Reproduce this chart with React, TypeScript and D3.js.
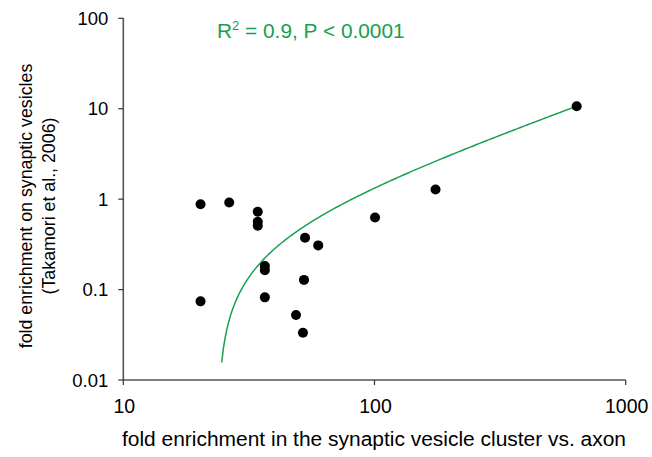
import React from "react";
import * as d3 from "d3";

const xValues = [20.3, 26.4, 34.3, 34.3, 34.3, 52.9, 59.7, 36.6, 36.6, 52.4, 20.3, 36.6, 48.7, 51.9, 175, 638, 100.5];
const yValues = [0.88, 0.92, 0.724, 0.561, 0.507, 0.374, 0.308, 0.182, 0.164, 0.128, 0.0741, 0.082, 0.0523, 0.0333, 1.28, 10.66, 0.628];
const xTicks = [10, 100, 1000];
const yTicks = [0.01, 0.1, 1, 10, 100];
const yTickLabels = ["0.01", "0.1", "1", "10", "100"];
const fitCoef = [0.017355, -0.412]; // slope, intercept (linear fit)
const fitRange = [24.64, 638];

const W = 652, H = 457;
const left = 123.3, right = 625.7, top = 18.3, bottom = 380;
const GREEN = "#17a04f";
const FONT = "Liberation Sans, Arial, sans-serif";

export default function App() {
  const x = d3.scaleLog().domain([10, 1000]).range([left, right]);
  const y = d3.scaleLog().domain([0.01, 100]).range([bottom, top]);
  const fitX = d3.range(0, 201).map((i) => fitRange[0] * Math.pow(fitRange[1] / fitRange[0], i / 200));
  const line = d3
    .line<number>()
    .x((d) => x(d))
    .y((d) => y(fitCoef[0] * d + fitCoef[1]))
    .curve(d3.curveLinear);
  const pts = xValues.map((v, i) => [v, yValues[i]]);
  return (
    <svg width={W} height={H} style={{ position: "absolute", left: 0, top: 0, background: "#fff" }} fontFamily={FONT}>
      {/* fit curve */}
      <path d={line(fitX) || ""} fill="none" stroke={GREEN} strokeWidth={1.5} />
      {/* points */}
      {pts.map((p, i) => (
        <circle key={i} cx={x(p[0])} cy={y(p[1])} r={5} fill="#000" />
      ))}
      {/* left axis */}
      <line x1={left} x2={left} y1={top} y2={bottom} stroke="#555" strokeWidth={1.6} />
      {yTicks.map((t, i) => (
        <g key={t}>
          <line x1={left - 5} x2={left} y1={y(t)} y2={y(t)} stroke="#333" strokeWidth={1.2} />
          <text x={left - 15} y={y(t)} dy="0.36em" textAnchor="end" fontSize={18.5} fill="#000">
            {yTickLabels[i]}
          </text>
        </g>
      ))}
      {/* bottom axis */}
      <line x1={left} x2={right} y1={bottom} y2={bottom} stroke="#000" strokeWidth={1.2} />
      {xTicks.map((t) => (
        <g key={t}>
          <line x1={x(t)} x2={x(t)} y1={bottom} y2={bottom + 5} stroke="#333" strokeWidth={1.2} />
          <text x={x(t) + 1} y={412.5} textAnchor="middle" fontSize={19.5} fill="#000">
            {t}
          </text>
        </g>
      ))}
      {/* axis titles */}
      <text x={122} y={445.5} fontSize={19.5} fill="#000" textLength={504} lengthAdjust="spacingAndGlyphs">
        fold enrichment in the synaptic vesicle cluster vs. axon
      </text>
      <g transform="translate(0,206) rotate(-90)">
        <text x={0} y={31.5} textAnchor="middle" fontSize={17.8} fill="#000">
          fold enrichment on synaptic vesicles
        </text>
        <text x={0} y={54.5} textAnchor="middle" fontSize={17.8} fill="#000">
          (Takamori et al., 2006)
        </text>
      </g>
      {/* annotation */}
      <g transform="translate(217,37.5) scale(1.07,1)">
        <text x={0} y={0} fontSize={19.5} fill={GREEN}>
          R<tspan fontSize={12} dy={-7.5}>2</tspan>
          <tspan dy={7.5}> = 0.9, P &lt; 0.0001</tspan>
        </text>
      </g>
    </svg>
  );
}
